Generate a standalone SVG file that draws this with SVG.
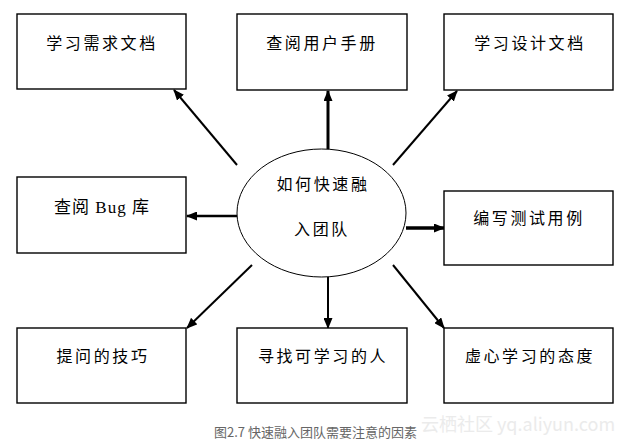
<svg xmlns="http://www.w3.org/2000/svg" width="636" height="447" viewBox="0 0 636 447">
<style>
.box{fill:#fff;stroke:#000;stroke-width:1.4}
.lbl{font-family:"Noto Sans CJK SC","Noto Sans",sans-serif;font-size:16px;letter-spacing:2.6px;text-anchor:middle;dominant-baseline:central;fill:#000}
.serif{font-family:"Liberation Serif","Noto Sans CJK SC",serif;font-size:17px;letter-spacing:1px}
.ln{stroke:#000;fill:none}
.cap{font-family:"Noto Sans CJK SC","Noto Sans",sans-serif;font-size:13px;fill:#666}
.wm{font-family:"Noto Sans CJK SC","Noto Sans",sans-serif;font-size:18px;fill:#ebebeb}
</style>
<defs>
<marker id="ah" markerUnits="userSpaceOnUse" markerWidth="11" markerHeight="9" refX="10" refY="4.5" orient="auto">
<path d="M0,0 L11,4.5 L0,9 z" fill="#000"/>
</marker>
</defs>
<rect width="636" height="447" fill="#fff"/>
<g id="connectors">
<line class="ln" x1="237" y1="165" x2="174" y2="90" stroke-width="2" marker-end="url(#ah)"/>
<line class="ln" x1="328" y1="149" x2="328" y2="91" stroke-width="3" marker-end="url(#ah)"/>
<line class="ln" x1="393" y1="165" x2="457" y2="91" stroke-width="2" marker-end="url(#ah)"/>
<line class="ln" x1="237" y1="216" x2="187" y2="216" stroke-width="2.5" marker-end="url(#ah)"/>
<line class="ln" x1="406" y1="228" x2="444" y2="228" stroke-width="3.5" marker-end="url(#ah)"/>
<line class="ln" x1="252" y1="265" x2="187" y2="328" stroke-width="2" marker-end="url(#ah)"/>
<line class="ln" x1="328" y1="277" x2="328" y2="328" stroke-width="2" marker-end="url(#ah)"/>
<line class="ln" x1="393" y1="265" x2="444" y2="328" stroke-width="2" marker-end="url(#ah)"/>
</g>
<g id="center">
<ellipse cx="321.5" cy="213" rx="84.5" ry="64" fill="#fff" stroke="#000" stroke-width="1"/>
<text class="lbl" x="323" y="183">如何快速融</text>
<text class="lbl" x="322" y="228">入团队</text>
</g>
<g id="n1"><rect class="box" x="17" y="14" width="169" height="75"/><text class="lbl" x="102" y="42">学习需求文档</text></g>
<g id="n2"><rect class="box" x="237" y="14" width="170" height="76"/><text class="lbl" x="322" y="42">查阅用户手册</text></g>
<g id="n3"><rect class="box" x="444" y="14" width="169" height="76"/><text class="lbl" x="530" y="42">学习设计文档</text></g>
<g id="n4"><rect class="box" x="17" y="177" width="169" height="76"/><text class="lbl serif" x="102" y="207">查阅 Bug 库</text></g>
<g id="n5"><rect class="box" x="444" y="191" width="169" height="74"/><text class="lbl" x="529" y="217">编写测试用例</text></g>
<g id="n6"><rect class="box" x="17" y="328" width="169" height="75"/><text class="lbl" x="103" y="355">提问的技巧</text></g>
<g id="n7"><rect class="box" x="237" y="328" width="170" height="75"/><text class="lbl" x="323" y="355">寻找可学习的人</text></g>
<g id="n8"><rect class="box" x="444" y="328" width="169" height="75"/><text class="lbl" x="530" y="355">虚心学习的态度</text></g>
<text class="cap" x="214" y="437">图2.7 快速融入团队需要注意的因素</text>
<text class="wm" x="421" y="431">云栖社区 yq.aliyun.com</text>
</svg>
